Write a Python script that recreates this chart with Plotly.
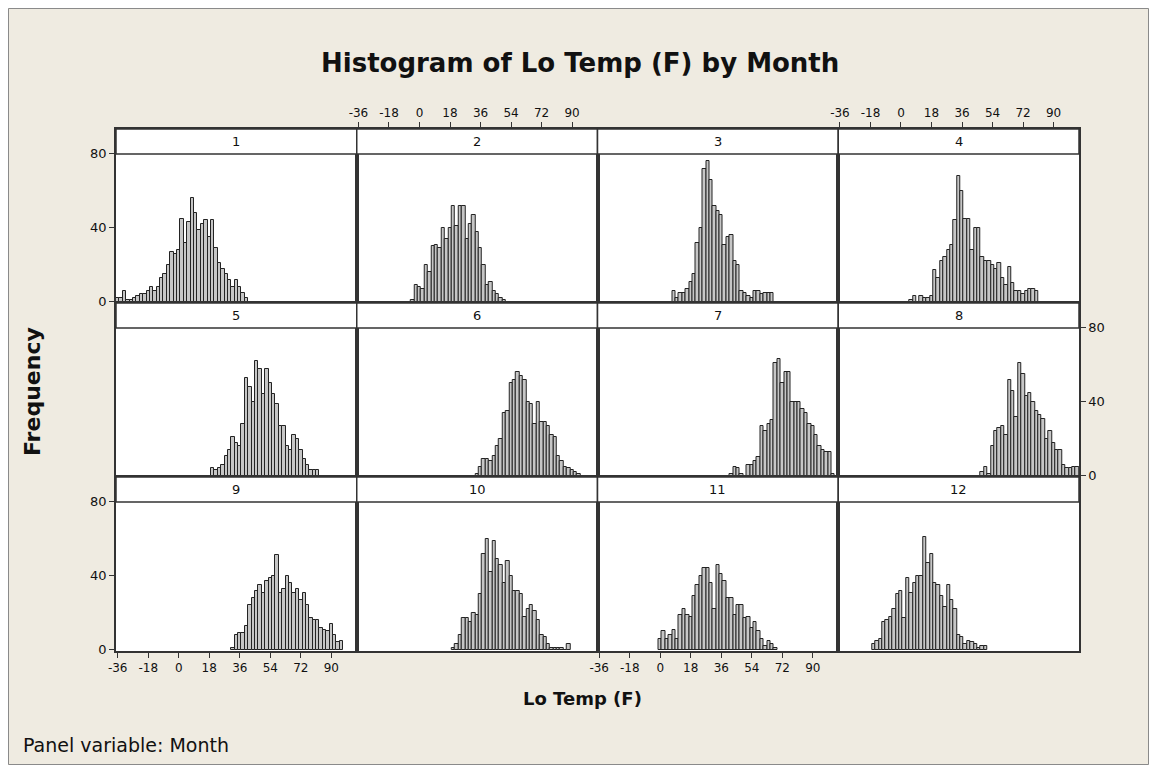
import plotly.graph_objects as go

# ---------------- data ----------------
BIN_WIDTH = 2  # deg F, bins centred on even numbers
x_ticks = [-36, -18, 0, 18, 36, 54, 72, 90]
x_tick_text = ["-36", "-18", "0", "18", "36", "54", "72", "90"]
y_ticks = [0, 40, 80]
y_tick_text = ["0", "40", "80"]
months = [1, 2, 3, 4, 5, 6, 7, 8, 9, 10, 11, 12]

# first bin midpoint of each month's histogram
first_bin = [-36, -4, 8, 6, 20, 34, 42, 48, 32, 20, 0, -16]

counts_1 = [2, 2, 6, 1, 1, 2, 3, 4, 4, 6, 8, 6, 8, 13, 15, 20, 27, 26, 28, 45, 32, 43,
            56, 48, 39, 42, 44, 35, 44, 29, 21, 18, 15, 12, 8, 12, 8, 5, 2]
counts_2 = [1, 9, 8, 7, 20, 16, 30, 31, 29, 40, 34, 40, 52, 41, 52, 52, 34, 42, 47,
            38, 29, 20, 9, 11, 6, 4, 2, 1]
counts_3 = [6, 2, 5, 5, 7, 11, 15, 32, 40, 72, 76, 66, 52, 49, 47, 31, 35, 36, 22, 20,
            6, 5, 3, 2, 6, 6, 4, 5, 5, 5]
counts_4 = [1, 3, 0, 3, 2, 2, 3, 17, 13, 22, 24, 28, 31, 44, 68, 60, 45, 45, 28, 40, 40,
            24, 22, 22, 20, 18, 21, 13, 9, 19, 10, 6, 6, 4, 6, 7, 7, 6]
counts_5 = [4, 3, 4, 6, 11, 14, 21, 18, 16, 28, 53, 48, 40, 62, 58, 44, 58, 50, 44, 39,
            27, 27, 16, 14, 22, 20, 14, 9, 6, 3, 3, 3]
counts_6 = [1, 5, 9, 9, 8, 11, 16, 20, 34, 35, 50, 52, 56, 54, 52, 40, 39, 28, 40, 29,
            29, 27, 22, 21, 11, 8, 5, 4, 3, 2, 1]
counts_7 = [1, 5, 4, 1, 0, 6, 6, 8, 10, 27, 24, 28, 30, 61, 63, 50, 56, 56, 40, 40, 40,
            36, 34, 28, 27, 22, 16, 14, 13, 13, 1]
counts_8 = [2, 5, 1, 16, 24, 26, 27, 22, 52, 46, 32, 61, 55, 43, 45, 40, 35, 33, 31, 20,
            24, 18, 14, 14, 6, 4, 4, 5, 5]
counts_9 = [1, 8, 9, 9, 13, 24, 28, 32, 35, 31, 37, 39, 40, 51, 31, 33, 40, 36, 31, 33,
            27, 31, 24, 17, 16, 16, 12, 11, 10, 14, 8, 4, 5]
counts_10 = [1, 3, 8, 17, 17, 15, 20, 19, 30, 52, 60, 42, 59, 49, 46, 36, 48, 40, 32, 32,
             30, 18, 22, 24, 21, 16, 8, 7, 3, 1, 1, 1, 1, 0, 3]
counts_11 = [6, 10, 6, 8, 11, 6, 19, 22, 19, 18, 29, 35, 40, 44, 44, 36, 22, 46, 41, 37,
             28, 28, 19, 24, 24, 17, 18, 12, 15, 10, 6, 2, 5, 3, 1]
counts_12 = [3, 5, 6, 15, 16, 18, 22, 30, 32, 17, 39, 31, 36, 40, 40, 61, 47, 52, 36, 35,
             29, 23, 35, 27, 22, 8, 7, 3, 5, 4, 3, 1, 2, 2]

all_counts = [counts_1, counts_2, counts_3, counts_4, counts_5, counts_6,
              counts_7, counts_8, counts_9, counts_10, counts_11, counts_12]

# ---------------- layout geometry ----------------
# The page places the figure 8px from the top-left corner, so the framed
# graph area (screen 8..1149 x 8..765) is the figure itself.
OFF = 8
W, H = 1142, 757
L, R, T, B = 116 - OFF, 1079 - OFF, 129 - OFF, 651 - OFF   # panel grid (figure px)
PW, PH = R - L, B - T


def px_x(p):
    """screen x pixel -> paper coordinate"""
    return (p - OFF - L) / PW


def px_y(p):
    """screen y pixel -> paper coordinate"""
    return (B - (p - OFF)) / PH


X_RANGE = [-37, 105]
Y_RANGE = [-0.6, 93.4]
HEADER_FRAC = 1 - 25 / 174.0

BG = "#EFEBE1"
LINE = "#333333"
FONT = "DejaVu Sans"

fig = go.Figure()
layout = dict(
    width=W, height=H,
    margin=dict(l=L, r=W - R, t=T, b=H - B, pad=0),
    paper_bgcolor=BG, plot_bgcolor="white",
    showlegend=False, bargap=0,
    font=dict(family=FONT, size=12, color="#111111"),
)

shapes, annotations = [], []

for i, m in enumerate(months):
    row, col = divmod(i, 4)
    sfx = "" if m == 1 else str(m)
    xa, ya = "x" + sfx, "y" + sfx
    counts = all_counts[i]
    xs = [first_bin[i] + BIN_WIDTH * j for j in range(len(counts))]
    fig.add_trace(go.Bar(
        x=xs, y=counts, width=BIN_WIDTH, xaxis=xa, yaxis=ya,
        marker=dict(color="#C6C6C6", line=dict(color="#232323", width=1)),
        hoverinfo="x+y",
    ))

    show_x = m in (2, 4, 9, 11)
    xside = "top" if m in (2, 4) else "bottom"
    layout["xaxis" + sfx] = dict(
        domain=[col / 4, (col + 1) / 4], range=X_RANGE, anchor=ya,
        showgrid=False, zeroline=False, showline=True, mirror=True,
        linecolor=LINE, linewidth=1.5, side=xside,
        tickmode="array",
        tickvals=x_ticks if show_x else [],
        ticktext=x_tick_text if show_x else [],
        ticks="outside" if show_x else "", ticklen=5, tickcolor=LINE,
        showticklabels=show_x, tickfont=dict(size=12, color="#111111"),
        fixedrange=True,
    )
    show_y = m in (1, 9, 8)
    yside = "right" if m == 8 else "left"
    layout["yaxis" + sfx] = dict(
        domain=[(2 - row) / 3, (3 - row) / 3], range=Y_RANGE, anchor=xa,
        showgrid=False, zeroline=False, showline=True, mirror=True,
        linecolor=LINE, linewidth=1.5, side=yside,
        tickmode="array",
        tickvals=y_ticks if show_y else [],
        ticktext=y_tick_text if show_y else [],
        ticks="outside" if show_y else "", ticklen=5, tickcolor=LINE,
        showticklabels=show_y, tickfont=dict(size=13, color="#111111"),
        fixedrange=True,
    )
    # panel header strip
    shapes.append(dict(
        type="rect", xref=xa + " domain", yref=ya + " domain",
        x0=0, x1=1, y0=HEADER_FRAC, y1=1,
        fillcolor="white", line=dict(color=LINE, width=1.5), layer="above",
    ))
    annotations.append(dict(
        text=str(m), xref=xa + " domain", yref=ya + " domain",
        x=0.5, y=(HEADER_FRAC + 1) / 2, showarrow=False,
        font=dict(size=13, color="#111111"), xanchor="center", yanchor="middle",
    ))

# outer frame of the graph (figure edges)
shapes.append(dict(
    type="rect", xref="paper", yref="paper",
    x0=px_x(8.5), x1=px_x(1148.5), y0=px_y(764.5), y1=px_y(8.5),
    line=dict(color="#8A8A8A", width=1), fillcolor="rgba(0,0,0,0)", layer="below",
))

annotations += [
    dict(text="<b>Histogram of Lo Temp (F) by Month</b>", xref="paper", yref="paper",
         x=px_x(580), y=px_y(63), showarrow=False, xanchor="center", yanchor="middle",
         font=dict(size=26, color="#111111")),
    dict(text="<b>Frequency</b>", xref="paper", yref="paper", textangle=-90,
         x=px_x(32), y=px_y(392), showarrow=False, xanchor="center", yanchor="middle",
         font=dict(size=22, color="#111111")),
    dict(text="<b>Lo Temp (F)</b>", xref="paper", yref="paper",
         x=px_x(582), y=px_y(698), showarrow=False, xanchor="center", yanchor="middle",
         font=dict(size=18, color="#111111")),
    dict(text="Panel variable: Month", xref="paper", yref="paper",
         x=px_x(21), y=px_y(745), showarrow=False, xanchor="left", yanchor="middle",
         font=dict(size=19, color="#111111")),
]

layout["shapes"] = shapes
layout["annotations"] = annotations
fig.update_layout(**layout)

fig.write_html("out.html", config={"displayModeBar": False})
